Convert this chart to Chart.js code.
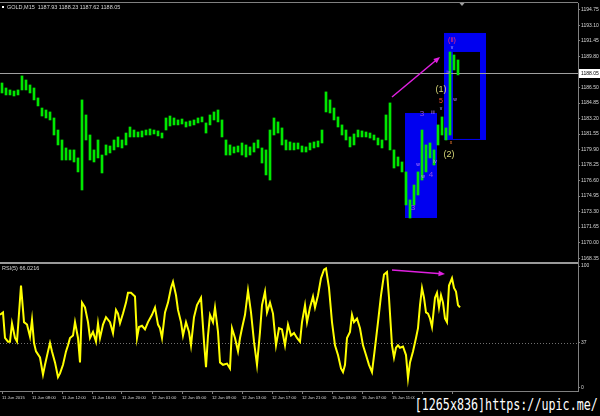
<!DOCTYPE html>
<html>
<head>
<meta charset="utf-8">
<script src="https://cdn.jsdelivr.net/npm/chart.js@4.4.1/dist/chart.umd.min.js"></script>
<style>
html, body { margin: 0; padding: 0; background: #000; }
#wrap { position: relative; width: 600px; height: 416px; background: #000; overflow: hidden; }
#price { position: absolute; left: 0; top: 0; }
#rsi { position: absolute; left: 0; top: 262px; }
#mark {
    position: absolute; right: 2px; top: 396px;
    font-family: "DejaVu Sans Mono", monospace; font-size: 15px; color: #fff;
    background: #000; white-space: nowrap;
    transform: scaleX(0.78); transform-origin: right top;
}
</style>
</head>
<body>
<div id="wrap">
    <canvas id="price" width="600" height="262"></canvas>
    <canvas id="rsi" width="600" height="154"></canvas>
    <div id="mark">[1265x836]https://upic.me/</div>
</div>
<script>
// GOLD M15 bars (one entry per bar, left to right)
const priceHigh = [
    1186.98,1186.45,1186.24,1186.13,1186.24,1187.73,1187.30,1186.77,1186.45,1185.39,
    1184.32,1184.11,1183.90,1183.26,1181.98,1180.92,1180.07,1179.86,1179.86,1179.01,
    1185.18,1183.58,1181.45,1179.86,1180.92,1179.32,1180.39,1180.28,1180.92,1181.24,
    1180.92,1181.66,1182.30,1181.98,1181.77,1181.88,1181.98,1182.09,1181.98,1181.88,
    1181.66,1183.26,1183.47,1183.26,1183.05,1183.15,1182.84,1182.94,1183.05,1183.26,
    1183.37,1182.73,1183.58,1183.90,1184.11,1183.05,1180.92,1180.39,1180.18,1180.28,
    1180.60,1180.39,1180.18,1180.60,1180.92,1180.07,1179.86,1181.98,1183.26,1182.84,
    1182.20,1180.92,1180.71,1180.60,1180.60,1180.28,1180.18,1180.60,1180.71,1180.81,
    1181.98,1186.03,1185.18,1184.32,1183.37,1182.52,1181.98,1181.24,1181.56,1181.98,
    1181.88,1181.77,1181.66,1181.45,1181.13,1180.92,1183.58,1184.86,1179.86,1179.11,
    1178.58,1177.52,1174.54,1176.13,1177.52,1181.98,1180.39,1180.60,1179.86,1182.52,
    1183.37,1182.20,1190.28,1189.96,1189.43
];
const priceLow = [
    1185.92,1185.71,1185.71,1185.60,1185.71,1186.24,1186.24,1185.92,1185.18,1184.54,
    1183.47,1183.26,1183.05,1181.45,1180.39,1178.79,1178.79,1178.79,1178.58,1177.52,
    1175.60,1180.92,1178.79,1178.58,1179.01,1177.41,1179.32,1179.54,1179.86,1180.18,
    1180.07,1180.39,1181.24,1181.24,1181.24,1181.24,1181.45,1181.45,1181.56,1181.35,
    1181.13,1181.98,1182.41,1182.52,1182.52,1182.62,1182.30,1182.41,1182.52,1182.73,
    1182.84,1181.66,1182.52,1183.05,1182.84,1181.24,1179.32,1179.32,1179.54,1179.64,
    1179.32,1179.11,1179.32,1179.64,1180.07,1178.47,1177.20,1176.66,1181.45,1181.66,
    1180.39,1179.86,1179.86,1179.86,1179.96,1179.64,1179.64,1179.86,1180.07,1180.18,
    1180.60,1183.90,1183.79,1183.05,1182.30,1181.45,1180.92,1180.18,1180.39,1181.24,
    1181.24,1181.24,1181.13,1180.92,1180.39,1180.07,1180.92,1179.86,1177.94,1178.15,
    1177.52,1174.01,1172.62,1174.01,1175.07,1176.66,1177.52,1179.01,1178.26,1180.39,
    1181.45,1180.92,1181.45,1188.37,1187.84
];

// RSI line: bar position and value
const rsiBar = [
    -0.5,0.25,0.75,1.5,2,2.5,3.25,3.75,4.75,5.5,
    6.25,7,7.5,8,8.5,9.5,10.25,10.75,11.5,12,
    12.5,13.25,14,14.5,15.25,16,16.5,17,17.75,18.25,
    19,19.5,20,20.75,21.5,22,22.75,23.5,24,24.5,
    25.25,26,27,27.75,28.5,29,29.5,30.25,31,31.5,
    32.25,33.25,33.75,34.25,35,35.75,36.5,37.5,38.25,39,
    39.5,40,40.75,41.5,42.25,42.75,43.5,44,44.75,45.25,
    46,46.75,47.25,48,48.75,49.75,50.5,51,51.5,52,
    52.75,53.25,54,54.5,55.25,56.25,57,57.5,58.25,59,
    59.5,60,60.75,61.5,62.25,63,63.75,64.5,65,65.75,
    66.25,67,67.75,68.5,69.25,70,70.75,71.5,72.25,73,
    73.75,74.5,75,75.75,76.25,77,77.75,78.25,79,79.75,
    80.5,81,81.75,82.5,83.25,84,84.75,85.25,85.75,86.25,
    87,87.5,88,88.75,89.5,90.25,91,91.75,92.5,93.25,
    94,94.75,95.5,96.25,96.75,97.5,98,98.5,99,99.5,
    100.25,101,101.5,102,102.75,103.5,104,104.5,105,105.5,
    106,106.5,107,107.5,108.25,108.75,109.25,109.75,110.25,110.75,
    111.25,111.75,112.5,113,113.5,114,114.5
];
const rsiValue = [
    60,62,41,38,38,53,41,38,84,54,
    52,42,56,37,30,25,11,19,30,37,
    30,21,9,12,19,30,35,41,43,54,
    41,21,70,66,54,41,46,38,53,41,
    52,58,54,45,64,61,53,61,70,78,
    78,75,41,50,51,48,54,60,66,52,
    49,41,62,70,82,87,76,64,54,43,
    54,46,35,58,68,74,38,17,43,60,
    54,66,46,21,19,20,16,49,41,30,
    41,49,60,80,62,38,19,46,68,79,
    62,70,61,35,49,48,35,52,43,45,
    41,38,54,68,54,66,75,66,76,90,
    97,98,82,54,35,27,16,13,19,41,
    46,60,54,57,49,35,27,19,13,33,
    54,76,93,95,74,35,25,33,35,33,
    34,27,8,21,30,41,49,68,82,74,
    62,61,57,50,74,78,66,76,70,57,
    54,84,90,82,79,68,66
];

const priceTicks = [1194.75,1193.10,1191.45,1189.80,1186.50,1184.85,1183.20,1181.55,
    1179.90,1178.25,1176.60,1174.95,1173.30,1171.65,1170.00,1168.35];
const rsiTicks = [0, 37, 100];
const timeLabels = ['11 Jun 2015','11 Jun 08:00','11 Jun 12:00','11 Jun 16:00','11 Jun 20:00',
    '12 Jun 01:00','12 Jun 05:00','12 Jun 09:00','12 Jun 13:00','12 Jun 17:00','12 Jun 21:00',
    '15 Jun 03:00','15 Jun 07:00','15 Jun 11:00','15 Jun 15:00','15 Jun 19:00'];
const lastPrice = 1188.05;
const rsiLevel = 37;
const titleText = 'GOLD,M15  1187.93 1188.23 1187.62 1188.05';
const rsiText = 'RSI(5) 66.0216';

// wave count marks (bar, price)
const waveMarks = [
    { t: '(ii)', i: 112.5, p: 1191.56, c: '#ff3070', s: 7 },
    { t: 'v', i: 112.5, p: 1190.75, c: '#b0b0ff', s: 5 },
    { t: '(1)', i: 109.75, p: 1186.24, c: '#d8d878', s: 9 },
    { t: '(2)', i: 111.75, p: 1179.32, c: '#d8d878', s: 9 },
    { t: '5', i: 109.75, p: 1185.07, c: '#ff5030', s: 7 },
    { t: 'v', i: 109.75, p: 1184.30, c: '#b0b0ff', s: 5 },
    { t: 'iv', i: 111.6, p: 1188.05, c: '#c080ff', s: 5 },
    { t: 'w', i: 113.25, p: 1185.18, c: '#c080ff', s: 5 },
    { t: '3', i: 105, p: 1183.69, c: '#9050e0', s: 8 },
    { t: 'iii', i: 107.75, p: 1183.79, c: '#c080ff', s: 5 },
    { t: 'iv', i: 108.25, p: 1178.58, c: '#c080ff', s: 5 },
    { t: 'x', i: 112.25, p: 1180.60, c: '#ff8030', s: 5 },
    { t: 'w', i: 104, p: 1178.26, c: '#c080ff', s: 5 },
    { t: '4', i: 107.25, p: 1177.20, c: '#9050e0', s: 8 },
    { t: 'w', i: 105.25, p: 1176.98, c: '#c080ff', s: 5 },
    { t: '3', i: 102.75, p: 1173.68, c: '#b050d0', s: 8 }
];

const axisGrey = '#808080';
const labelColor = '#d8d8d8';
const tinyFont = { family: 'Liberation Sans', size: 5 };

function arrow(ctx, x1, y1, x2, y2, color) {
    const a = Math.atan2(y2 - y1, x2 - x1);
    ctx.save();
    ctx.strokeStyle = color;
    ctx.fillStyle = color;
    ctx.lineWidth = 1.5;
    ctx.beginPath();
    ctx.moveTo(x1, y1);
    ctx.lineTo(x2 - 4 * Math.cos(a), y2 - 4 * Math.sin(a));
    ctx.stroke();
    ctx.beginPath();
    ctx.moveTo(x2, y2);
    ctx.lineTo(x2 - 7 * Math.cos(a - 0.4), y2 - 7 * Math.sin(a - 0.4));
    ctx.lineTo(x2 - 7 * Math.cos(a + 0.4), y2 - 7 * Math.sin(a + 0.4));
    ctx.closePath();
    ctx.fill();
    ctx.restore();
}

const pricePlugin = {
    id: 'pricePlugin',
    beforeDatasetsDraw(chart) {
        const { ctx, scales: { x, y } } = chart;
        const rect = (i1, p1, i2, p2, col) => {
            const l = x.getPixelForValue(i1), r = x.getPixelForValue(i2);
            const t = y.getPixelForValue(p1), b = y.getPixelForValue(p2);
            ctx.fillStyle = col;
            ctx.fillRect(l, t, r - l, b - t);
        };
        rect(100.75, 1183.79, 108.75, 1172.62, '#0000f0');
        rect(110.5, 1192.30, 121, 1180.92, '#0000f0');
        rect(112.75, 1190.28, 119.5, 1181.03, '#000000');
        // last price line
        const ly = Math.round(y.getPixelForValue(lastPrice)) + 0.5;
        ctx.save();
        ctx.strokeStyle = '#a0a0a0';
        ctx.lineWidth = 1;
        ctx.beginPath();
        ctx.moveTo(chart.chartArea.left, ly);
        ctx.lineTo(chart.chartArea.right, ly);
        ctx.stroke();
        ctx.restore();
    },
    afterDatasetsDraw(chart) {
        const { ctx, chartArea: ca, scales: { x, y } } = chart;
        ctx.save();
        // top border
        ctx.fillStyle = axisGrey;
        ctx.fillRect(0, ca.top - 1, ca.right, 1);
        // shift marker
        ctx.fillStyle = '#a0a0a0';
        ctx.beginPath();
        ctx.moveTo(x.getPixelForValue(115) - 2.5, ca.top);
        ctx.lineTo(x.getPixelForValue(115) + 2.5, ca.top);
        ctx.lineTo(x.getPixelForValue(115), ca.top + 3);
        ctx.closePath();
        ctx.fill();
        // title
        ctx.fillStyle = '#ffffff';
        ctx.fillRect(2, 6, 2, 2);
        ctx.fillStyle = labelColor;
        ctx.font = '5.5px "Liberation Sans"';
        ctx.textBaseline = 'middle';
        ctx.textAlign = 'left';
        ctx.fillText(titleText, 7, 7.5);
        // arrow
        arrow(ctx, x.getPixelForValue(97.5), y.getPixelForValue(1185.49),
            x.getPixelForValue(109.5), y.getPixelForValue(1189.75), '#e020e0');
        // wave marks
        ctx.textAlign = 'center';
        waveMarks.forEach(m => {
            ctx.fillStyle = m.c;
            ctx.font = m.s + 'px "Liberation Sans"';
            ctx.fillText(m.t, x.getPixelForValue(m.i), y.getPixelForValue(m.p));
        });
        // last price tag on axis
        const ly = Math.round(y.getPixelForValue(lastPrice));
        ctx.fillStyle = '#ffffff';
        ctx.fillRect(ca.right + 1, ly - 4, 21, 9);
        ctx.fillStyle = '#000000';
        ctx.font = '5px "Liberation Sans"';
        ctx.textAlign = 'left';
        ctx.fillText(lastPrice.toFixed(2), ca.right + 3, ly + 0.5);
        ctx.restore();
    }
};

const rsiPlugin = {
    id: 'rsiPlugin',
    beforeDatasetsDraw(chart) {
        const { ctx, chartArea: ca, scales: { y } } = chart;
        ctx.save();
        ctx.fillStyle = '#9a9a9a';
        ctx.fillRect(0, 0, ca.right, 2);
        const ly = Math.round(y.getPixelForValue(rsiLevel)) + 0.5;
        ctx.strokeStyle = '#707070';
        ctx.setLineDash([1, 2]);
        ctx.beginPath();
        ctx.moveTo(ca.left, ly);
        ctx.lineTo(ca.right, ly);
        ctx.stroke();
        ctx.restore();
    },
    afterDatasetsDraw(chart) {
        const { ctx, scales: { x, y } } = chart;
        ctx.save();
        ctx.fillStyle = labelColor;
        ctx.font = '5.5px "Liberation Sans"';
        ctx.textBaseline = 'middle';
        ctx.fillText(rsiText, 2, 6);
        arrow(ctx, x.getPixelForValue(97.5), y.getPixelForValue(96.7),
            x.getPixelForValue(110.75), y.getPixelForValue(93.4), '#e020e0');
        ctx.restore();
    }
};

const barScale = { type: 'linear', min: -0.5, max: 144, offset: false };

new Chart(document.getElementById('price'), {
    type: 'bar',
    data: {
        datasets: [{
            data: priceHigh.map((h, i) => ({ x: i, y: [priceLow[i], h] })),
            backgroundColor: '#00e800',
            barThickness: 2,
            grouped: false
        }]
    },
    options: {
        responsive: false,
        animation: false,
        events: [],
        layout: { padding: { top: 3, left: 0, right: 0, bottom: 0 } },
        plugins: { legend: { display: false }, tooltip: { enabled: false } },
        scales: {
            x: Object.assign({}, barScale, { display: false }),
            y: {
                position: 'right',
                min: 1167.94,
                max: 1195.49,
                afterBuildTicks: s => { s.ticks = priceTicks.map(v => ({ value: v })); },
                afterFit: s => { s.width = 22; s.paddingTop = 0; s.paddingBottom = 0; },
                ticks: {
                    color: labelColor, font: tinyFont, padding: 1, crossAlign: 'near',
                    autoSkip: false, callback: v => v.toFixed(2)
                },
                grid: { drawOnChartArea: false, tickLength: 2, color: axisGrey },
                border: { display: true, color: axisGrey }
            }
        }
    },
    plugins: [pricePlugin]
});

new Chart(document.getElementById('rsi'), {
    type: 'line',
    data: {
        datasets: [{
            data: rsiBar.map((b, i) => ({ x: b, y: rsiValue[i] })),
            borderColor: '#ffff00',
            borderWidth: 2,
            pointRadius: 0,
            tension: 0
        }]
    },
    options: {
        responsive: false,
        animation: false,
        events: [],
        layout: { padding: 0 },
        plugins: { legend: { display: false }, tooltip: { enabled: false } },
        scales: {
            x: Object.assign({}, barScale, {
                position: 'bottom',
                afterBuildTicks: s => { s.ticks = timeLabels.map((_, k) => ({ value: k * 7.5 })); },
                afterFit: s => { s.height = 25; s.paddingLeft = 0; s.paddingRight = 0; },
                ticks: {
                    color: labelColor, font: { family: 'Liberation Sans', size: 4.2 }, padding: 1,
                    align: 'start', maxRotation: 0, autoSkip: false, callback: (v, k) => timeLabels[k]
                },
                grid: { drawOnChartArea: false, tickLength: 3, color: axisGrey },
                border: { display: true, color: axisGrey }
            }),
            y: {
                position: 'right',
                min: -2.46,
                max: 103.28,
                afterBuildTicks: s => { s.ticks = rsiTicks.map(v => ({ value: v })); },
                afterFit: s => { s.width = 22; s.paddingTop = 0; s.paddingBottom = 0; },
                ticks: { color: labelColor, font: tinyFont, padding: 1, crossAlign: 'near', autoSkip: false },
                grid: { drawOnChartArea: false, tickLength: 2, color: axisGrey },
                border: { display: true, color: axisGrey }
            }
        }
    },
    plugins: [rsiPlugin]
});
</script>
</body>
</html>
